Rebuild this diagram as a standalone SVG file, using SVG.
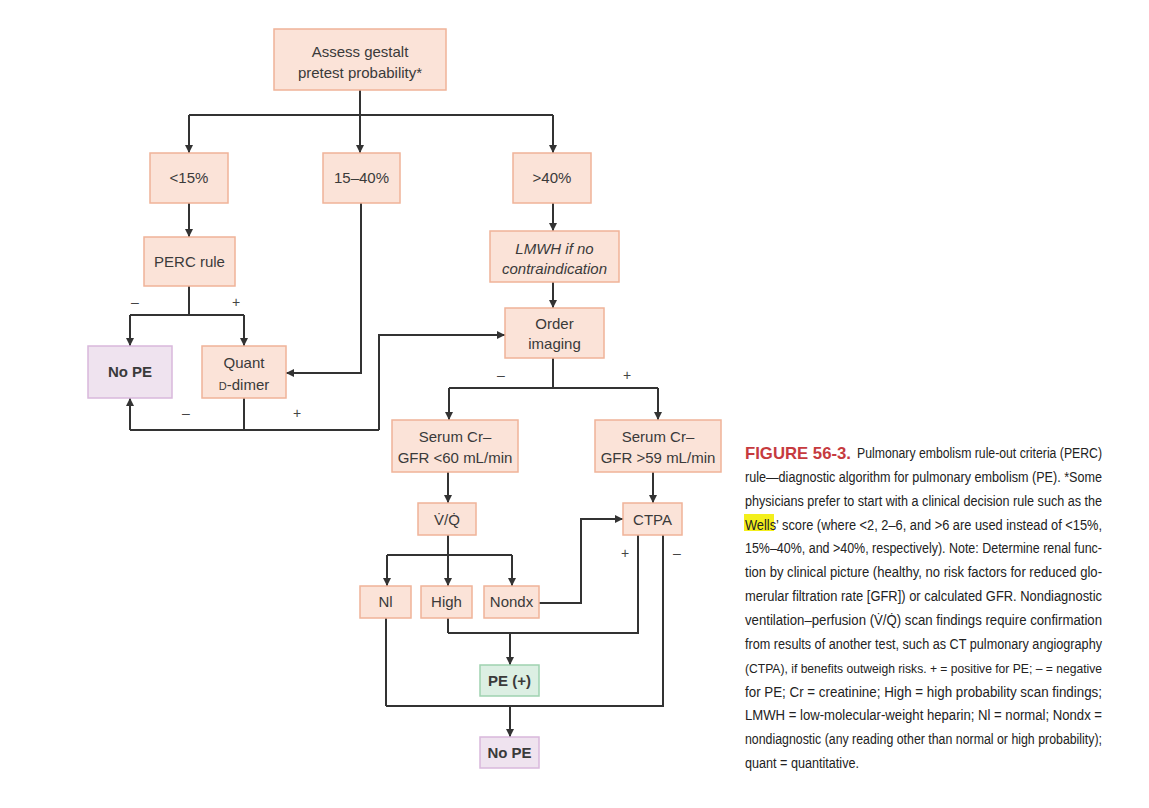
<svg xmlns="http://www.w3.org/2000/svg" width="1149" height="808" viewBox="0 0 1149 808">
<defs>
<marker id="ah" viewBox="0 0 10 10" refX="10" refY="5" markerWidth="8" markerHeight="8" markerUnits="userSpaceOnUse" orient="auto">
<path d="M0,0 L10,5 L0,10 z" fill="#333"/>
</marker>
<style>
.box{fill:#fbe3d8;stroke:#f0b398;stroke-width:1.5}
.neg{fill:#efe3ef;stroke:#d9b8dc;stroke-width:1.5}
.pos{fill:#dcefe3;stroke:#9fd2b0;stroke-width:1.5}
.t{font-family:"Liberation Sans",Arial,sans-serif;font-size:15px;fill:#3a3a3a;text-anchor:middle}
.b{font-weight:bold}
.i{font-style:italic}
.ln{fill:none;stroke:#333;stroke-width:2}
.ar{fill:none;stroke:#333;stroke-width:2;marker-end:url(#ah)}
.sg{font-family:"Liberation Sans",Arial,sans-serif;font-size:14px;fill:#444;text-anchor:middle}
.cap{font-family:"Liberation Sans",Arial,sans-serif;font-size:14px;fill:#222}
.cap.sm{font-size:13px}
.fig{font-family:"Liberation Sans",Arial,sans-serif;font-size:17px;font-weight:bold;fill:#c63a3e}
</style>
</defs>
<rect width="1149" height="808" fill="#fff"/>

<g id="connectors">
<path class="ln" d="M360,90 V115 M189,115 H553"/>
<path class="ar" d="M189,115 V153"/>
<path class="ar" d="M360,115 V153"/>
<path class="ar" d="M553,115 V153"/>
<path class="ar" d="M189,203 V237"/>
<path class="ar" d="M361,203 V373 H286"/>
<path class="ar" d="M553,203 V231"/>
<path class="ar" d="M553,282 V308"/>
<path class="ln" d="M189,286 V315 M130,315 H244"/>
<path class="ar" d="M130,315 V346"/>
<path class="ar" d="M244,315 V346"/>
<path class="ln" d="M244,398 V430 M130,430 H379"/>
<path class="ar" d="M130,430 V398"/>
<path class="ar" d="M379,430 V335 H505"/>
<path class="ln" d="M553,358 V388 M449,388 H658"/>
<path class="ar" d="M449,388 V420"/>
<path class="ar" d="M658,388 V420"/>
<path class="ar" d="M448,472 V503"/>
<path class="ar" d="M653,472 V503"/>
<path class="ln" d="M448,535 V555 M387,555 H512"/>
<path class="ar" d="M387,555 V586"/>
<path class="ar" d="M448,555 V586"/>
<path class="ar" d="M512,555 V586"/>
<path class="ar" d="M539,603 H581 V519 H623"/>
<path class="ln" d="M638,535 V633 H448 M448,618 V633"/>
<path class="ar" d="M510,633 V665"/>
<path class="ln" d="M663,535 V706 H386 M386,618 V706"/>
<path class="ar" d="M510,706 V737"/>
</g>

<g id="edge-labels">
<text class="sg" x="135" y="307">–</text>
<text class="sg" x="236" y="307">+</text>
<text class="sg" x="186" y="418">–</text>
<text class="sg" x="297" y="418">+</text>
<text class="sg" x="501" y="380">–</text>
<text class="sg" x="627" y="380">+</text>
<text class="sg" x="625" y="558">+</text>
<text class="sg" x="677" y="558">–</text>
</g>

<g id="assess"><rect class="box" x="274" y="29" width="172" height="61"/>
<text class="t" x="360" y="57">Assess gestalt</text><text class="t" x="360" y="78">pretest probability*</text></g>
<g id="lt15"><rect class="box" x="150" y="153" width="78" height="50"/><text class="t" x="189" y="183">&lt;15%</text></g>
<g id="mid"><rect class="box" x="323" y="153" width="77" height="50"/><text class="t" x="361.5" y="183">15–40%</text></g>
<g id="gt40"><rect class="box" x="513" y="153" width="78" height="50"/><text class="t" x="552" y="183">&gt;40%</text></g>
<g id="perc"><rect class="box" x="144" y="237" width="91" height="49"/><text class="t" x="189.5" y="267">PERC rule</text></g>
<g id="lmwh"><rect class="box" x="490" y="231" width="129" height="51"/>
<text class="t i" x="554.5" y="254">LMWH if no</text><text class="t i" x="554.5" y="274">contraindication</text></g>
<g id="order"><rect class="box" x="505" y="308" width="99" height="50"/>
<text class="t" x="554.5" y="329">Order</text><text class="t" x="554.5" y="349">imaging</text></g>
<g id="nope1"><rect class="neg" x="88" y="346" width="84" height="52"/><text class="t b" x="130" y="377">No PE</text></g>
<g id="quant"><rect class="box" x="202" y="346" width="84" height="52"/>
<text class="t" x="244" y="368">Quant</text><text class="t" x="244" y="390"><tspan style="font-size:11px">D</tspan>-dimer</text></g>
<g id="serumL"><rect class="box" x="392" y="420" width="126" height="52"/>
<text class="t" x="455" y="442">Serum Cr–</text><text class="t" x="455" y="463">GFR &lt;60 mL/min</text></g>
<g id="serumR"><rect class="box" x="595" y="420" width="126" height="52"/>
<text class="t" x="658" y="442">Serum Cr–</text><text class="t" x="658" y="463">GFR &gt;59 mL/min</text></g>
<g id="vq"><rect class="box" x="418" y="503" width="58" height="32"/><text class="t" x="447" y="525">V̇/Q̇</text></g>
<g id="ctpa"><rect class="box" x="623" y="503" width="59" height="32"/><text class="t" x="652.5" y="525">CTPA</text></g>
<g id="nl"><rect class="box" x="360" y="586" width="51" height="32"/><text class="t" x="385.5" y="607">Nl</text></g>
<g id="high"><rect class="box" x="421" y="586" width="51" height="32"/><text class="t" x="446.5" y="607">High</text></g>
<g id="nondx"><rect class="box" x="484" y="586" width="55" height="32"/><text class="t" x="511.5" y="607">Nondx</text></g>
<g id="pe"><rect class="pos" x="480" y="665" width="59" height="31"/><text class="t b" x="509.5" y="686">PE (+)</text></g>
<g id="nope2"><rect class="neg" x="480" y="737" width="59" height="31"/><text class="t b" x="509.5" y="758">No PE</text></g>

<g id="caption">
<rect x="744" y="514" width="30" height="17" fill="#f3ef1c"/>
<text class="fig" x="745" y="459" textLength="106" lengthAdjust="spacingAndGlyphs">FIGURE 56-3.</text>
<text class="cap" x="857" y="458" textLength="245" lengthAdjust="spacingAndGlyphs">Pulmonary embolism rule-out criteria (PERC)</text>
<text class="cap" x="745" y="481.8" textLength="357" lengthAdjust="spacingAndGlyphs">rule—diagnostic algorithm for pulmonary embolism (PE). *Some</text>
<text class="cap" x="745" y="505.7" textLength="357" lengthAdjust="spacingAndGlyphs">physicians prefer to start with a clinical decision rule such as the</text>
<text class="cap" x="745" y="529.5" textLength="357" lengthAdjust="spacingAndGlyphs">Wells’ score (where &lt;2, 2–6, and &gt;6 are used instead of &lt;15%,</text>
<text class="cap" x="745" y="553.4" textLength="357" lengthAdjust="spacingAndGlyphs">15%–40%, and &gt;40%, respectively). Note: Determine renal func-</text>
<text class="cap" x="745" y="577.2" textLength="357" lengthAdjust="spacingAndGlyphs">tion by clinical picture (healthy, no risk factors for reduced glo-</text>
<text class="cap" x="745" y="601.1" textLength="357" lengthAdjust="spacingAndGlyphs">merular filtration rate [GFR]) or calculated GFR. Nondiagnostic</text>
<text class="cap" x="745" y="624.9" textLength="357" lengthAdjust="spacingAndGlyphs">ventilation–perfusion (V̇/Q̇) scan findings require confirmation</text>
<text class="cap" x="745" y="648.8" textLength="357" lengthAdjust="spacingAndGlyphs">from results of another test, such as CT pulmonary angiography</text>
<text class="cap sm" x="745" y="672.6" textLength="357" lengthAdjust="spacingAndGlyphs">(CTPA), if benefits outweigh risks. + = positive for PE; – = negative</text>
<text class="cap" x="745" y="696.5" textLength="357" lengthAdjust="spacingAndGlyphs">for PE; Cr = creatinine; High = high probability scan findings;</text>
<text class="cap" x="745" y="720.3" textLength="357" lengthAdjust="spacingAndGlyphs">LMWH = low-molecular-weight heparin; Nl = normal; Nondx =</text>
<text class="cap" x="745" y="744.2" textLength="357" lengthAdjust="spacingAndGlyphs">nondiagnostic (any reading other than normal or high probability);</text>
<text class="cap" x="745" y="768" textLength="114" lengthAdjust="spacingAndGlyphs">quant = quantitative.</text>
</g>
</svg>
